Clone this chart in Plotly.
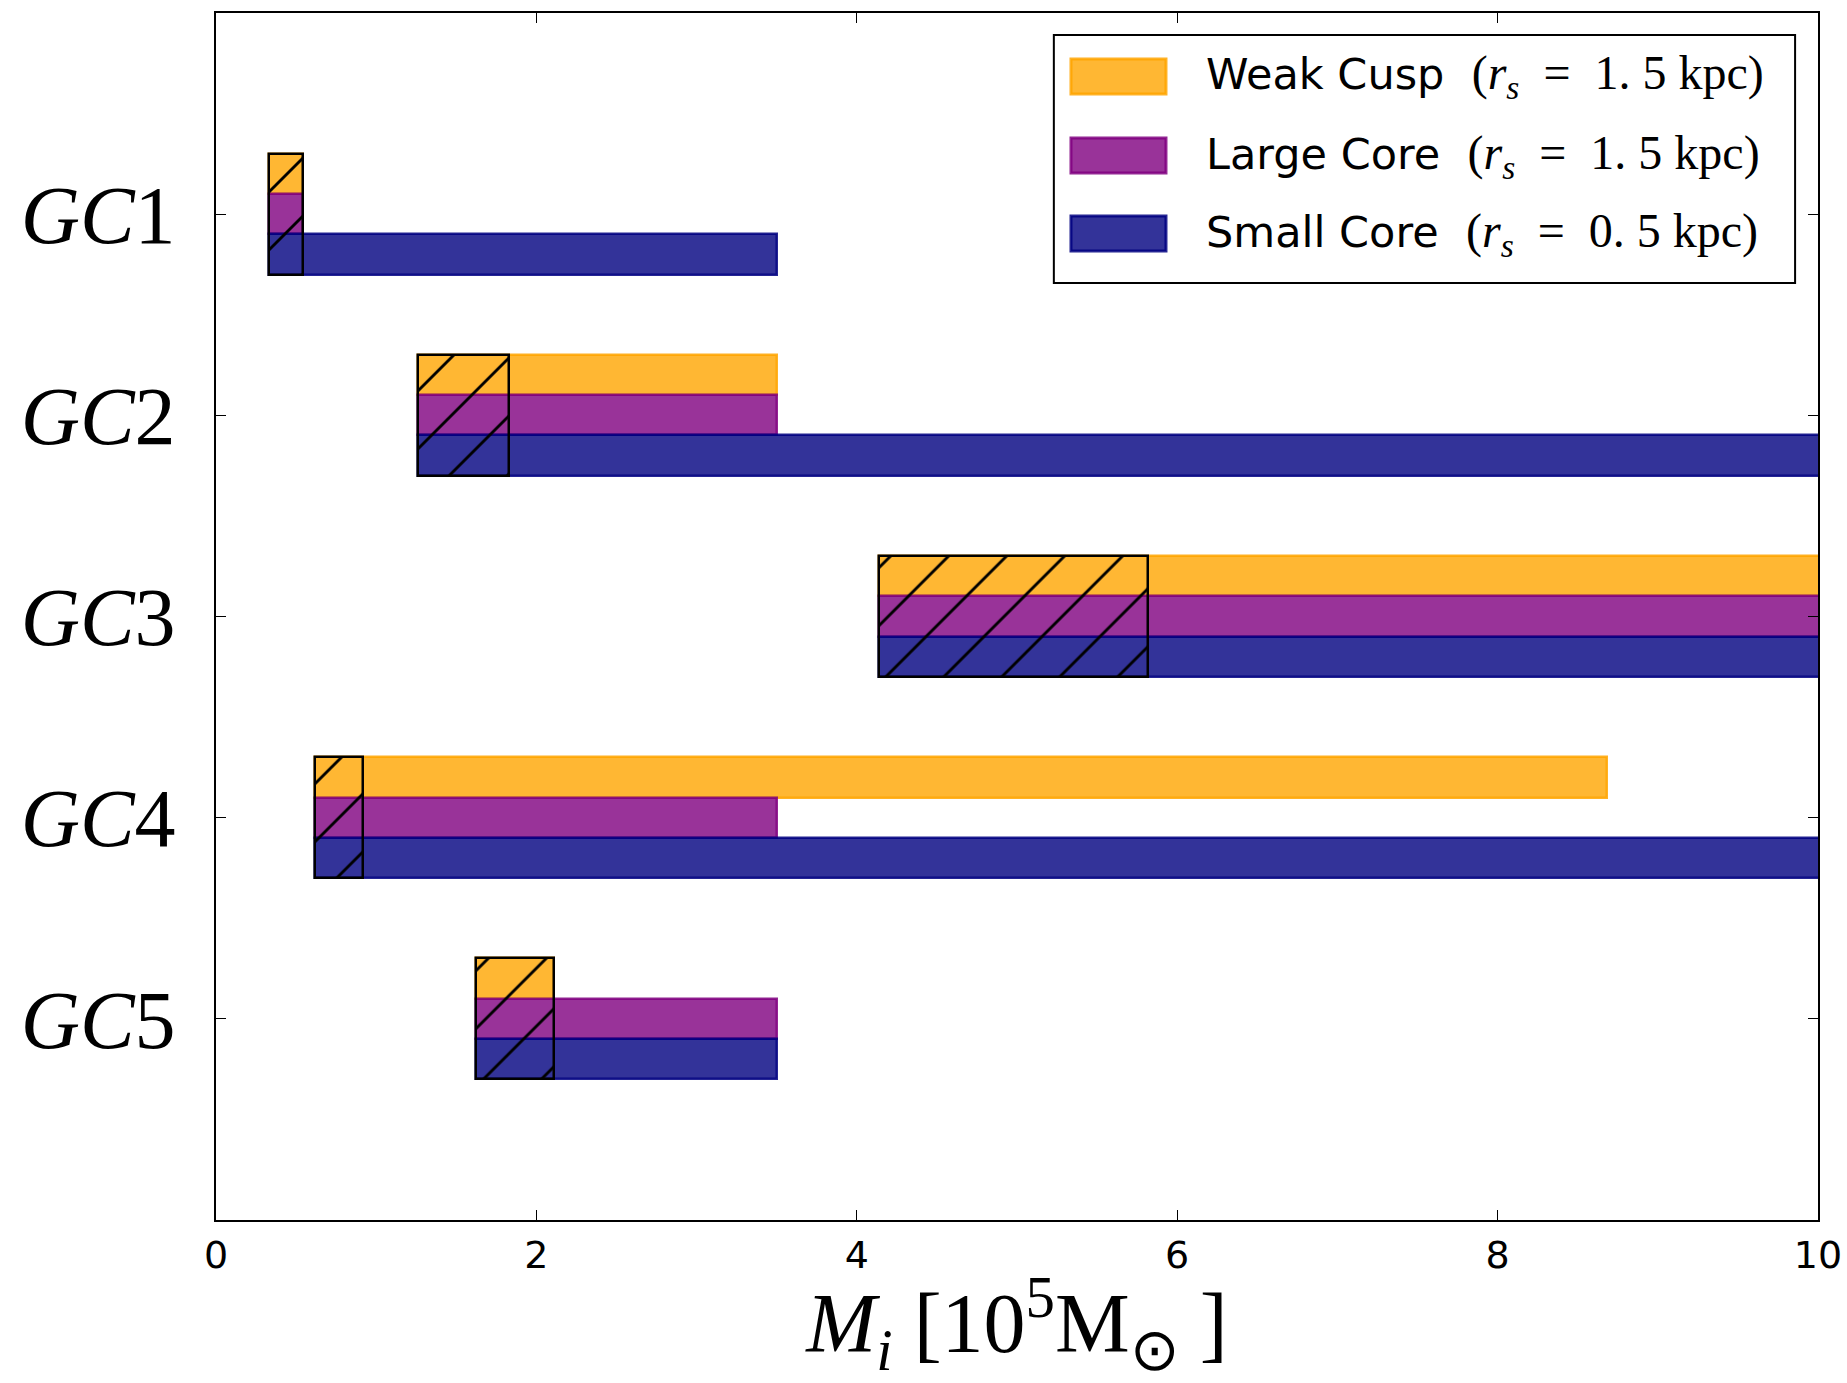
import plotly.graph_objects as go

# Globular clusters (top to bottom) and their initial-mass ranges [10^5 Msun]
clusters = ["GC1", "GC2", "GC3", "GC4", "GC5"]
y_pos = [5, 4, 3, 2, 1]

range_start = [0.33, 1.26, 4.14, 0.62, 1.62]          # lower bound of all ranges
weak_cusp_end = [0.54, 3.50, 11.0, 8.68, 2.11]
large_core_end = [0.54, 3.50, 11.0, 3.50, 3.50]
small_core_end = [3.50, 11.0, 11.0, 11.0, 3.50]
hatch_end = [0.54, 1.83, 5.82, 0.92, 2.11]            # hatched overlap region

series = [
    ("Weak Cusp", weak_cusp_end, 0.2, "rgba(255,165,0,0.8)", "rgba(255,165,0,0.85)"),
    ("Large Core", large_core_end, 0.0, "rgba(128,0,128,0.8)", "rgba(128,0,128,0.85)"),
    ("Small Core", small_core_end, -0.2, "rgba(0,0,128,0.8)", "rgba(0,0,128,0.85)"),
]
legend_params = ["1. 5", "1. 5", "0. 5"]

fig = go.Figure()

for name, ends, offset, fill, edge in series:
    fig.add_trace(go.Bar(
        name=name,
        orientation="h",
        y=[p + offset for p in y_pos],
        base=range_start,
        x=[e - s for e, s in zip(ends, range_start)],
        width=0.2,
        marker=dict(color=fill, line=dict(color=edge, width=2.5)),
        showlegend=False,
        hoverinfo="skip",
    ))

# Hatched boxes spanning the three bars of each cluster
fig.add_trace(go.Bar(
    orientation="h",
    y=y_pos,
    base=range_start,
    x=[h - s for h, s in zip(hatch_end, range_start)],
    width=0.6,
    marker=dict(
        color="rgba(0,0,0,0)",
        line=dict(color="black", width=2.5),
        pattern=dict(shape="/", size=41, solidity=0.07, fgcolor="black",
                     fgopacity=1, bgcolor="rgba(0,0,0,0)", fillmode="overlay"),
    ),
    showlegend=False,
    hoverinfo="skip",
))

# Legend drawn as a boxed key in paper coordinates
shapes = [dict(type="rect", xref="paper", yref="paper", x0=0.523, x1=0.9857,
               y0=0.7763, y1=0.9818, line=dict(color="black", width=2),
               fillcolor="white", layer="above")]
annotations = []
swatch_y = [(0.9329, 0.9619), (0.8674, 0.8964), (0.8028, 0.8318)]
for (name, _, _, fill, edge), (y0, y1), par in zip(series, swatch_y, legend_params):
    shapes.append(dict(type="rect", xref="paper", yref="paper", x0=0.5337, x1=0.593,
                       y0=y0, y1=y1, fillcolor=fill, line=dict(color=edge, width=3),
                       layer="above"))
    annotations.append(dict(
        xref="paper", yref="paper", x=0.6167, y=(y0 + y1) / 2,
        xanchor="left", yanchor="middle", showarrow=False,
        text=(f"{name}  <span style='font-family:\"Liberation Serif\"; font-size:48px'>"
              f"(<i>r</i><sub><i>s</i></sub>  =  {par} kpc)</span>"),
        font=dict(family="DejaVu Sans", size=43, color="black"),
    ))

fig.update_layout(
    width=1847, height=1383,
    margin=dict(l=216, r=29, t=13, b=163, autoexpand=False),
    plot_bgcolor="white", paper_bgcolor="white",
    barmode="overlay",
    bargap=0,
    shapes=shapes,
    annotations=annotations,
    xaxis=dict(
        range=[0, 10], tickvals=[0, 2, 4, 6, 8, 10],
        ticks="inside", ticklen=10, tickwidth=1.2, tickcolor="black",
        showline=True, linecolor="black", linewidth=2, mirror="ticks",
        showgrid=False, zeroline=False, automargin=False,
        ticklabeloverflow="allow",
        tickfont=dict(family="DejaVu Sans", size=38, color="black"),
        title=dict(text="<i>M</i><sub><i>i</i></sub> [10<sup>5</sup>M<sub>⊙</sub> ]",
                   font=dict(family="Liberation Serif", size=84, color="black"),
                   standoff=14),
    ),
    yaxis=dict(
        range=[0, 6], tickvals=y_pos,
        ticktext=[f"<i>{c[:2]}</i>{c[2:]}" for c in clusters],
        ticks="inside", ticklen=10, tickwidth=1.2, tickcolor="black",
        showline=True, linecolor="black", linewidth=2, mirror="ticks",
        showgrid=False, zeroline=False, automargin=False,
        tickfont=dict(family="Liberation Serif", size=82, color="black"),
        ticklabelstandoff=22,
    ),
)

fig.write_html("out.html")
